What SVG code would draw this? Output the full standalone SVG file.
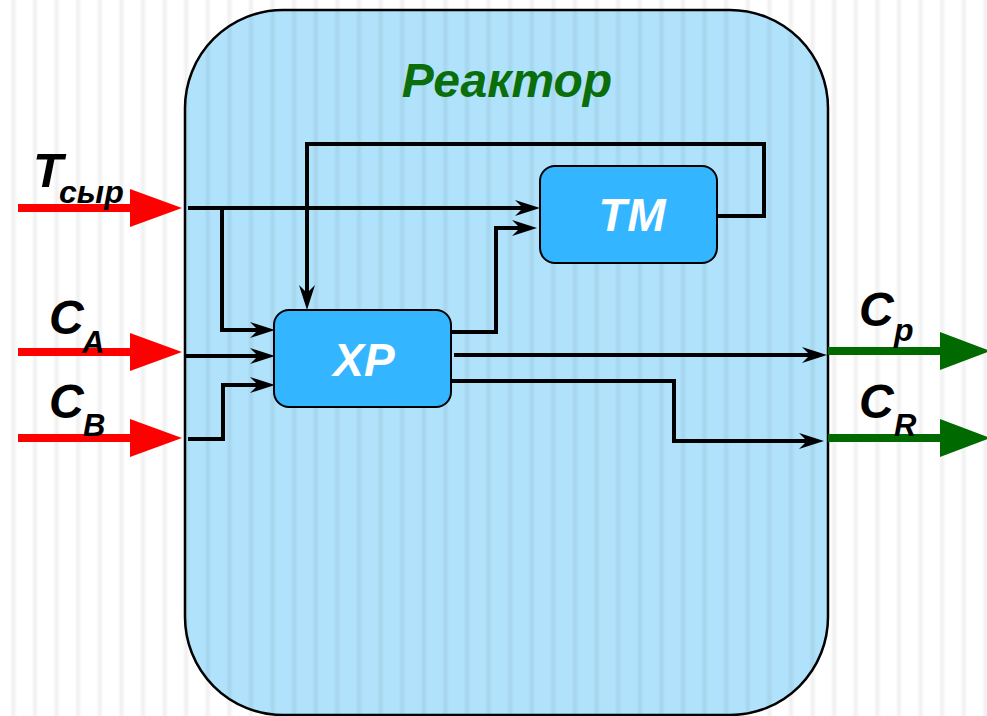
<svg xmlns="http://www.w3.org/2000/svg" width="987" height="716" viewBox="0 0 987 716">
  <defs>
    <style>
      .lbl { font-family: "Liberation Sans", Arial, sans-serif; font-weight: bold; font-style: italic; fill: #000; }
      .node-box { fill: #33b6ff; stroke: #000; stroke-width: 2; }
      .node-txt { font-family: "Liberation Sans", Arial, sans-serif; font-weight: bold; font-style: italic; fill: #fff; font-size: 46px; text-anchor: middle; }
      .wire { fill: none; stroke: #000; stroke-width: 4; stroke-linejoin: miter; }
      .in-shaft { stroke: #ff0000; stroke-width: 8; }
      .in-head { fill: #ff0000; }
      .out-shaft { stroke: #006a00; stroke-width: 8; }
      .out-head { fill: #006a00; }
    </style>
    <!-- soft vertical texture -->
    <linearGradient id="stripeGrad" x1="0" y1="0" x2="1" y2="0">
      <stop offset="0" stop-color="#000" stop-opacity="0"/>
      <stop offset="0.45" stop-color="#000" stop-opacity="0"/>
      <stop offset="0.62" stop-color="#000" stop-opacity="0.06"/>
      <stop offset="0.79" stop-color="#000" stop-opacity="0"/>
      <stop offset="1" stop-color="#000" stop-opacity="0"/>
    </linearGradient>
    <pattern id="stripes" patternUnits="userSpaceOnUse" x="0" y="0" width="21.6" height="20">
      <rect x="0" y="0" width="21.6" height="20" fill="url(#stripeGrad)"/>
    </pattern>
    <!-- barbed arrowhead for internal wires -->
    <marker id="barb" viewBox="0 0 25 16" refX="9" refY="8" markerWidth="25" markerHeight="16" markerUnits="userSpaceOnUse" orient="auto">
      <path d="M25,8 L0,0 L8,8 L0,16 Z" fill="#000"/>
    </marker>
  </defs>

  <!-- background -->
  <rect x="0" y="0" width="987" height="716" fill="#ffffff"/>

  <!-- reactor vessel -->
  <g id="reactor">
    <rect x="185" y="10" width="643" height="705" rx="98" ry="98" fill="#b0e2fb" stroke="#000" stroke-width="2.5"/>
  </g>

  <rect x="0" y="0" width="987" height="716" fill="url(#stripes)"/>

  <g id="reactor-title">
    <text x="507" y="97" font-family="Liberation Sans, Arial, sans-serif" font-weight="bold" font-style="italic" font-size="48" fill="#0a6e0a" text-anchor="middle">Реактор</text>
  </g>

  <!-- internal connectors -->
  <g id="connectors">
    <path class="wire" d="M188,208 H524" marker-end="url(#barb)"/>
    <path class="wire" d="M222,208 V330 H259" marker-end="url(#barb)"/>
    <path class="wire" d="M186,356 H259" marker-end="url(#barb)"/>
    <path class="wire" d="M188,439 H223 V385 H259" marker-end="url(#barb)"/>
    <path class="wire" d="M717,216 H764 V144 H307 V294" marker-end="url(#barb)"/>
    <path class="wire" d="M451,332 H496 V228 H521" marker-end="url(#barb)"/>
    <path class="wire" d="M454,355 H811" marker-end="url(#barb)"/>
    <path class="wire" d="M451,381 H674 V441 H808" marker-end="url(#barb)"/>
  </g>

  <!-- blocks -->
  <g id="tm">
    <rect class="node-box" x="540" y="166" width="177" height="97" rx="15" ry="15"/>
    <text class="node-txt" x="632" y="231">ТМ</text>
  </g>
  <g id="xr">
    <rect class="node-box" x="274" y="310" width="177" height="97" rx="15" ry="15"/>
    <text class="node-txt" x="364" y="376">ХР</text>
  </g>

  <!-- inputs -->
  <g id="in-tsyr">
    <line class="in-shaft" x1="18" y1="208" x2="134" y2="208"/>
    <polygon class="in-head" points="130,189 182,208 130,227"/>
    <text class="lbl" x="33" y="187" font-size="49">T</text>
    <text class="lbl" x="59" y="203" font-size="32">сыр</text>
  </g>
  <g id="in-ca">
    <line class="in-shaft" x1="18" y1="352" x2="134" y2="352"/>
    <polygon class="in-head" points="130,333 182,352 130,371"/>
    <text class="lbl" x="49" y="334" font-size="48">C</text>
    <text class="lbl" x="82" y="353" font-size="31">A</text>
  </g>
  <g id="in-cb">
    <line class="in-shaft" x1="18" y1="438" x2="134" y2="438"/>
    <polygon class="in-head" points="130,419 182,438 130,457"/>
    <text class="lbl" x="49" y="418" font-size="48">C</text>
    <text class="lbl" x="83" y="436" font-size="31">B</text>
  </g>

  <!-- outputs -->
  <g id="out-cp">
    <line class="out-shaft" x1="828" y1="351" x2="944" y2="351"/>
    <polygon class="out-head" points="940,332 990,351 940,370"/>
    <text class="lbl" x="859" y="326" font-size="48">C</text>
    <text class="lbl" x="894" y="341" font-size="32">p</text>
  </g>
  <g id="out-cr">
    <line class="out-shaft" x1="828" y1="438" x2="944" y2="438"/>
    <polygon class="out-head" points="940,419 990,438 940,457"/>
    <text class="lbl" x="859" y="418" font-size="48">C</text>
    <text class="lbl" x="894" y="436" font-size="31">R</text>
  </g>
</svg>
